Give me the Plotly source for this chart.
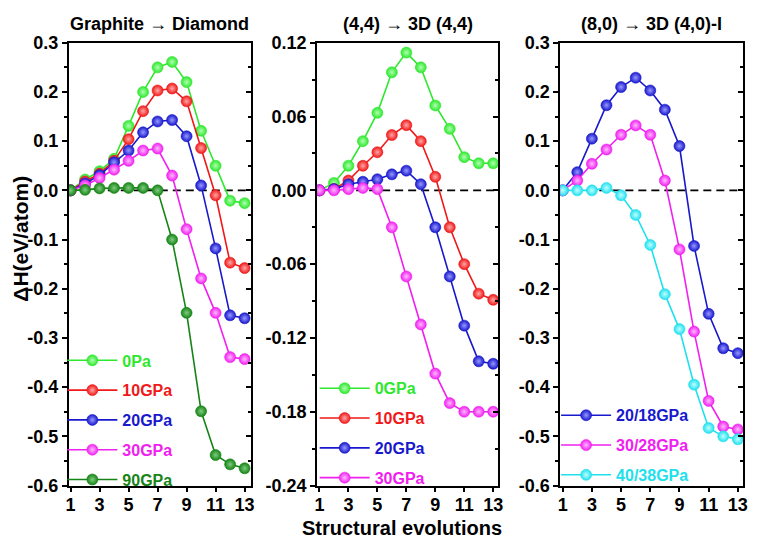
import plotly.graph_objects as go

# ---------------- data ----------------
steps = [1, 2, 3, 4, 5, 6, 7, 8, 9, 10, 11, 12, 13]
x_ticks = [1, 3, 5, 7, 9, 11, 13]

panel_titles = ["Graphite \u2192 Diamond", "(4,4) \u2192 3D (4,4)", "(8,0) \u2192 3D (4,0)-I"]

# Panel 1: Graphite -> Diamond
gd_names = ["0Pa", "10GPa", "20GPa", "30GPa", "90GPa"]
gd_0 = [0.0, 0.022, 0.039, 0.064, 0.131, 0.200, 0.250, 0.261, 0.220, 0.121, 0.050, -0.021, -0.026]
gd_10 = [0.0, 0.018, 0.034, 0.060, 0.104, 0.161, 0.203, 0.207, 0.181, 0.086, -0.010, -0.147, -0.158]
gd_20 = [0.0, 0.014, 0.031, 0.057, 0.081, 0.118, 0.140, 0.143, 0.110, 0.010, -0.118, -0.254, -0.260]
gd_30 = [0.0, 0.010, 0.025, 0.042, 0.060, 0.081, 0.085, 0.030, -0.079, -0.179, -0.249, -0.339, -0.343]
gd_90 = [0.0, 0.001, 0.004, 0.005, 0.005, 0.005, 0.000, -0.100, -0.249, -0.449, -0.538, -0.557, -0.565]

# Panel 2: (4,4) -> 3D (4,4)
c44_names = ["0GPa", "10GPa", "20GPa", "30GPa"]
c44_0 = [0.0, 0.006, 0.020, 0.040, 0.063, 0.096, 0.112, 0.100, 0.069, 0.050, 0.027, 0.022, 0.022]
c44_10 = [0.0, 0.001, 0.008, 0.020, 0.031, 0.045, 0.053, 0.040, 0.011, -0.030, -0.060, -0.084, -0.089]
c44_20 = [0.0, 0.001, 0.005, 0.007, 0.009, 0.013, 0.016, 0.005, -0.030, -0.070, -0.110, -0.139, -0.141]
c44_30 = [0.0, 0.0, 0.001, 0.002, 0.001, -0.030, -0.070, -0.109, -0.149, -0.173, -0.180, -0.180, -0.180]

# Panel 3: (8,0) -> 3D (4,0)-I
c80_names = ["20/18GPa", "30/28GPa", "40/38GPa"]
c80_20 = [0.0, 0.037, 0.105, 0.173, 0.210, 0.229, 0.203, 0.164, 0.090, -0.113, -0.251, -0.321, -0.331]
c80_30 = [0.0, 0.020, 0.054, 0.083, 0.113, 0.132, 0.113, 0.020, -0.120, -0.287, -0.428, -0.480, -0.486]
c80_40 = [0.0, 0.0, 0.0, 0.005, -0.010, -0.050, -0.111, -0.211, -0.282, -0.395, -0.483, -0.500, -0.506]

y_ticks_1 = [-0.6, -0.5, -0.4, -0.3, -0.2, -0.1, 0.0, 0.1, 0.2, 0.3]
y_ticks_2 = [-0.24, -0.18, -0.12, -0.06, 0.0, 0.06, 0.12]
y_ticks_3 = [-0.6, -0.5, -0.4, -0.3, -0.2, -0.1, 0.0, 0.1, 0.2, 0.3]

# ---------------- styles ----------------
GREEN = "#2ee82e"
RED = "#f01818"
BLUE = "#1818cc"
MAGENTA = "#f020f0"
DKGREEN = "#168416"
CYAN = "#20e0ee"
LIGHT = {GREEN: "#b0ffb0", RED: "#ffa8a8", BLUE: "#9898ff", MAGENTA: "#ffb8ff",
         DKGREEN: "#80cc80", CYAN: "#c0ffff"}

FONT = "Liberation Sans, Arial, sans-serif"
W, H = 757, 549

panels = [
    dict(series=[gd_0, gd_10, gd_20, gd_30, gd_90], names=gd_names,
         colors=[GREEN, RED, BLUE, MAGENTA, DKGREEN], ticks=y_ticks_1, fmt="{:.1f}",
         yr=[-0.6, 0.3], minor=0.05, xr=[0.88, 13.43], dom=[66.5, 250.5],
         leg=(60, 346)),
    dict(series=[c44_0, c44_10, c44_20, c44_30], names=c44_names,
         colors=[GREEN, RED, BLUE, MAGENTA], ticks=y_ticks_2, fmt="{:.2f}",
         yr=[-0.24, 0.12], minor=0.03, xr=[0.84, 13.36], dom=[317.5, 500.7],
         leg=(315, 375)),
    dict(series=[c80_20, c80_30, c80_40], names=c80_names,
         colors=[BLUE, MAGENTA, CYAN], ticks=y_ticks_3, fmt="{:.1f}",
         yr=[-0.6, 0.3], minor=0.05, xr=[0.84, 13.38], dom=[563.3, 748.3],
         leg=(559, 403)),
]

ydom = [(H - 493.5) / H, (H - 34) / H]

fig = go.Figure()
layout = dict(
    width=W, height=H, margin=dict(l=0, r=0, t=0, b=0),
    paper_bgcolor="white", plot_bgcolor="white",
    font=dict(family=FONT, size=17, color="black", weight="bold"),
    shapes=[], annotations=[],
)

for i, p in enumerate(panels):
    k = i + 1
    xa = "x" if k == 1 else f"x{k}"
    ya = "y" if k == 1 else f"y{k}"
    yov = f"y{k + 3}"
    legname = "legend" if k == 1 else f"legend{k}"

    for j, (vals, nm, col) in enumerate(zip(p["series"], p["names"], p["colors"])):
        fig.add_trace(go.Scatter(
            x=steps, y=vals, mode="lines+markers", xaxis=xa, yaxis=ya,
            name=f"<span style='color:{col}'>{nm}</span>",
            legend=legname, legendgroup=f"g{k}{j}",
            line=dict(color=col, width=1.6),
            marker=dict(size=11, color=col, symbol="circle",
                        line=dict(width=0.6, color=col),
                        gradient=dict(type="radial", color=LIGHT[col])),
        ))

    xd = [p["dom"][0] / W, p["dom"][1] / W]
    ticktext = [p["fmt"].format(v) for v in p["ticks"]]

    layout[f"xaxis{'' if k == 1 else k}"] = dict(
        domain=xd, anchor=ya, range=p["xr"], tickmode="array", tickvals=x_ticks,
        ticktext=[str(v) for v in x_ticks],
        showline=True, linewidth=2, linecolor="black", mirror=True,
        ticks="outside", ticklen=4, tickwidth=2, tickcolor="black",
        ticklabelstandoff=-2,
        showgrid=False, zeroline=False,
        tickfont=dict(family=FONT, size=18, color="black", weight="bold"),
    )
    layout[f"yaxis{'' if k == 1 else k}"] = dict(
        domain=ydom, anchor=xa, range=p["yr"], tickmode="array",
        tickvals=p["ticks"], ticktext=ticktext,
        showline=True, linewidth=2, linecolor="black", mirror=True,
        ticks="outside", ticklen=5, tickwidth=2, tickcolor="black",
        minor=dict(ticks="outside", ticklen=3, tickwidth=1.5, tickcolor="black",
                   dtick=p["minor"], tick0=0, showgrid=False),
        showgrid=False, zeroline=False,
        tickfont=dict(family=FONT, size=18, color="black", weight="bold"),
    )
    # right-side inward ticks
    layout[f"yaxis{k + 3}"] = dict(
        overlaying=ya, anchor=xa, side="right", range=p["yr"], tickmode="array",
        tickvals=p["ticks"], showticklabels=False, showline=False,
        ticks="inside", ticklen=5, tickwidth=2, tickcolor="black",
        minor=dict(ticks="inside", ticklen=3, tickwidth=1.5, tickcolor="black",
                   dtick=p["minor"], tick0=0, showgrid=False),
        showgrid=False, zeroline=False,
    )
    fig.add_trace(go.Scatter(x=[None], y=[None], xaxis=xa, yaxis=yov,
                             showlegend=False, hoverinfo="skip"))

    # dashed zero line
    layout["shapes"].append(dict(
        type="line", xref=f"{xa} domain", yref=ya, x0=0, x1=1, y0=0, y1=0,
        line=dict(color="black", width=1.6, dash="8px,5px"), layer="below"))

    # panel title
    layout["annotations"].append(dict(
        text=panel_titles[i], xref=f"{xa} domain", yref="paper", x=0.5,
        y=(H - 15) / H, xanchor="center", yanchor="middle", showarrow=False,
        font=dict(family=FONT, size=18, color="black", weight="bold")))

    lx, ly = p["leg"]
    layout[legname] = dict(
        x=lx / W, y=(H - ly) / H, xanchor="left", yanchor="top",
        bgcolor="rgba(0,0,0,0)", borderwidth=0, itemwidth=50,
        tracegroupgap=6, traceorder="grouped",
        font=dict(family=FONT, size=16, weight="bold"),
    )

layout["annotations"].append(dict(
    text="\u0394H(eV/atom)", xref="paper", yref="paper", x=17.5 / W, y=(H - 237) / H,
    textangle=-90, showarrow=False, xanchor="center", yanchor="middle",
    font=dict(family=FONT, size=21, color="black", weight="bold")))
layout["annotations"].append(dict(
    text="Structural evolutions", xref="paper", yref="paper", x=403 / W, y=(H - 538) / H,
    showarrow=False, xanchor="center", yanchor="middle",
    font=dict(family=FONT, size=20, color="black", weight="bold")))

fig.update_layout(**layout)
fig.write_html("out.html", config={"displayModeBar": False},
               post_script="document.body.style.margin='0';document.body.style.overflow='hidden';")
